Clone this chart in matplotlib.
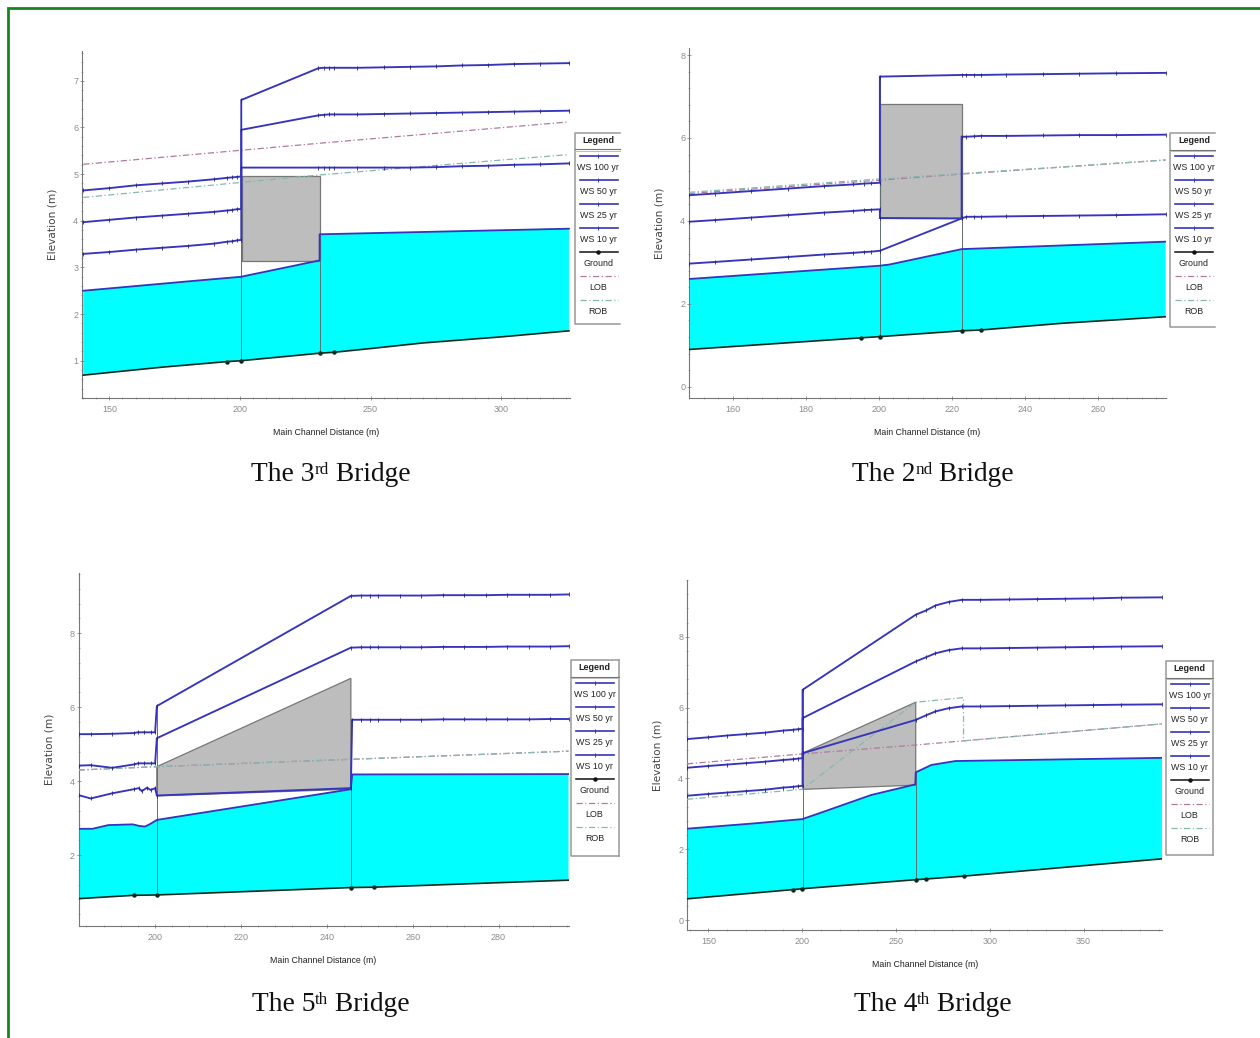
import matplotlib
matplotlib.use("Agg")
import matplotlib.pyplot as plt
from matplotlib.ticker import MultipleLocator
import numpy as np

W, H = 1260, 1038
NARROW = ["Liberation Sans", "DejaVu Sans"]

LEGEND_LABELS = ["WS 100 yr", "WS 50 yr", "WS 25 yr", "WS 10 yr", "Ground", "LOB", "ROB"]

# ---------- 3rd bridge ----------
B3_WS_X = [140,150,160,170,180,190,195,197,199,200.5,200.5,230,232,234,236,245,255,265,275,285,295,305,315,326]
B3_WS100 = [4.65,4.70,4.76,4.80,4.84,4.89,4.92,4.93,4.94,4.95,6.59,7.27,7.28,7.28,7.28,7.28,7.29,7.30,7.31,7.33,7.34,7.36,7.37,7.38]
B3_WS50 = [3.97,4.02,4.07,4.11,4.15,4.19,4.22,4.23,4.25,4.25,5.95,6.26,6.27,6.28,6.28,6.28,6.29,6.30,6.31,6.32,6.33,6.34,6.35,6.36]
B3_WS25 = [3.29,3.33,3.38,3.42,3.46,3.51,3.55,3.56,3.58,3.59,5.14,5.14,5.14,5.14,5.14,5.14,5.14,5.14,5.15,5.17,5.18,5.20,5.21,5.23]
B3_WS10_X = [140,180,200.5,203,230.5,230.5,326]
B3_WS10 = [2.50,2.70,2.80,2.83,3.15,3.71,3.83]
B3_GR_X = [140,170,195,200.5,230.5,236,250,270,300,326]
B3_GR = [0.69,0.86,0.98,1.00,1.16,1.18,1.26,1.38,1.51,1.64]
B3_GR_MARK = [2,3,4,5]
B3_LOB_X = [140,200,230,326]
B3_LOB = [5.21,5.51,5.66,6.12]
B3_ROB_X = [140,200,230,326]
B3_ROB = [4.50,4.82,4.98,5.42]
B3_DECK_X = [200.8,200.8,230.5,230.5]
B3_DECK_Y = [3.14,4.96,4.96,3.14]
B3_SECTION_X = [200.5,230.5]
B3_SECTION_TOP = [6.59,3.71]
B3_SECTION_BOT = [1.00,1.16]

# ---------- 2nd bridge ----------
B2_WS_X = [148,155,165,175,185,193,196,198,200.3,200.3,222.7,224,226,228,235,245,255,265,278.6]
B2_WS100 = [4.62,4.66,4.72,4.78,4.84,4.88,4.90,4.91,4.92,7.48,7.52,7.52,7.52,7.52,7.53,7.54,7.55,7.56,7.57]
B2_WS50_X = [148,155,165,175,185,193,196,198,200.3,200.3,222.7,222.7,224,226,228,235,245,255,265,278.6]
B2_WS50 = [3.98,4.02,4.08,4.14,4.20,4.24,4.26,4.27,4.28,4.07,4.06,6.03,6.03,6.04,6.05,6.05,6.06,6.07,6.07,6.08]
B2_WS25_X = [148,155,165,175,185,193,196,198,200.3,222.7,224,226,228,235,245,255,265,278.6]
B2_WS25 = [2.97,3.01,3.07,3.13,3.19,3.23,3.25,3.26,3.28,4.06,4.10,4.10,4.10,4.11,4.12,4.13,4.14,4.16]
B2_WS10_X = [148,200.3,203,222.7,278.6]
B2_WS10 = [2.60,2.92,2.95,3.32,3.50]
B2_GR_X = [148,195,200.3,222.7,228,250,278.6]
B2_GR = [0.90,1.18,1.21,1.35,1.37,1.53,1.69]
B2_GR_MARK = [1,2,3,4]
B2_LOB_X = [148,200,222.7,278.6]
B2_LOB = [4.66,4.98,5.13,5.47]
B2_ROB_X = [148,200,222.7,278.6]
B2_ROB = [4.69,5.01,5.14,5.47]
B2_DECK_X = [200.3,200.3,222.7,222.7]
B2_DECK_Y = [4.06,6.82,6.82,4.06]
B2_SECTION_X = [200.3,222.7]
B2_SECTION_TOP = [7.48,6.03]
B2_SECTION_BOT = [1.21,1.35]

# ---------- 5th bridge ----------
B5_WS_X = [182.2,185,190,195,196,197.5,199,200.0]
B5_WS100 = [5.27,5.27,5.28,5.30,5.32,5.32,5.32,5.32]
B5_WS100_X2 = [200.4,245.6,248,250,252,257,262,267,272,277,282,287,292,296.3]
B5_WS100_Y2 = [6.03,9.01,9.02,9.02,9.02,9.02,9.02,9.03,9.03,9.03,9.04,9.04,9.04,9.05]
B5_WS50 = [4.42,4.43,4.36,4.45,4.48,4.48,4.48,4.48]
B5_WS50_Y2 = [5.16,7.61,7.62,7.62,7.62,7.62,7.62,7.63,7.63,7.63,7.64,7.64,7.64,7.65]
B5_WS25_X = [182.2,185,190,195,196.2,196.9,198.1,199,200.0,200.4,245.6,245.9,248,250,252,257,262,267,272,277,282,287,292,296.3]
B5_WS25 = [3.62,3.53,3.67,3.78,3.81,3.73,3.82,3.76,3.81,3.61,3.81,5.66,5.66,5.66,5.66,5.66,5.66,5.67,5.67,5.67,5.67,5.67,5.68,5.68]
B5_WS10_X = [182.2,185.4,189.1,194.8,196.2,197.6,198.7,200.4,245.6,245.9,296.3]
B5_WS10 = [2.71,2.71,2.81,2.83,2.79,2.77,2.83,2.95,3.78,4.18,4.19]
B5_GR_X = [182.2,195,200.4,245.6,251,296.3]
B5_GR = [0.82,0.91,0.92,1.12,1.13,1.32]
B5_GR_MARK = [1,2,3,4]
B5_LOB_X = [182.2,200.4,245.6,296.3]
B5_LOB = [4.30,4.39,4.59,4.81]
B5_ROB_X = [182.2,200.4,245.6,296.3]
B5_ROB = [4.30,4.39,4.59,4.81]
B5_DECK_X = [200.4,200.4,245.6,245.6]
B5_DECK_Y = [3.60,4.39,6.78,3.78]
B5_SECTION_X = [200.4,245.6]
B5_SECTION_TOP = [6.03,5.66]
B5_SECTION_BOT = [0.92,1.12]

# ---------- 4th bridge ----------
B4_L_X = [138.6,150,160,170,180,190,195,198,200.2]
B4_R_X = [200.2,260.5,266,271,278,285,295,310,325,340,355,370,392]
B4_WS100_L = [5.11,5.16,5.21,5.25,5.29,5.35,5.37,5.39,5.40]
B4_WS100_R = [6.50,8.62,8.74,8.88,8.98,9.04,9.04,9.05,9.06,9.07,9.08,9.10,9.11]
B4_WS50_L = [4.30,4.35,4.39,4.43,4.47,4.52,4.54,4.56,4.57]
B4_WS50_R = [5.70,7.30,7.42,7.53,7.62,7.67,7.67,7.68,7.69,7.70,7.71,7.72,7.73]
B4_WS25_L = [3.51,3.56,3.60,3.64,3.68,3.74,3.76,3.78,3.79]
B4_WS25_R = [4.71,5.65,5.78,5.89,5.98,6.03,6.03,6.04,6.05,6.06,6.07,6.08,6.09]
B4_WS10_X = [138.6,174.5,200,208.8,236.7,260.3,260.5,268.9,281.7,392]
B4_WS10 = [2.58,2.73,2.85,3.01,3.53,3.83,4.17,4.38,4.49,4.58]
B4_GR_X = [138.6,195,200,260.5,266,286,392]
B4_GR = [0.60,0.86,0.885,1.14,1.16,1.24,1.73]
B4_GR_MARK = [1,2,3,4,5]
B4_LOB_X = [138.6,200,260,286,392]
B4_LOB = [4.41,4.69,4.94,5.06,5.54]
B4_ROB_X = [138.6,200,260.5,286,286,392]
B4_ROB = [3.41,3.69,6.15,6.28,5.06,5.54]
B4_DECK_X = [200.2,200.2,260.5,260.5]
B4_DECK_Y = [3.69,4.71,6.15,3.81]
B4_SECTION_X = [200.2,260.5]
B4_SECTION_TOP = [6.50,4.17]
B4_SECTION_BOT = [0.885,1.14]

BLUE = "#3634bb"
CYAN = "#00ffff"
DECK = "#bdbdbd"
LOBC = "#b07a9f"
ROBC = "#86b8b0"
GROUNDC = "#0d2a1f"
TICKC = "#8c8c8c"
GREEN = "#17851f"

fig = plt.figure(figsize=(W / 100, H / 100), dpi=100, facecolor="white")


def make_axes(l, r, t, b, xlim, ylim, xmaj, xmin, ymaj, ymin):
    ax = fig.add_axes([l / W, 1 - b / H, (r - l) / W, (b - t) / H])
    ax.set_xlim(*xlim)
    ax.set_ylim(*ylim)
    for s in ("top", "right"):
        ax.spines[s].set_visible(False)
    for s in ("left", "bottom"):
        ax.spines[s].set_color("#777777")
        ax.spines[s].set_linewidth(0.8)
    ax.xaxis.set_major_locator(MultipleLocator(xmaj))
    ax.xaxis.set_minor_locator(MultipleLocator(xmin))
    ax.yaxis.set_major_locator(MultipleLocator(ymaj))
    ax.yaxis.set_minor_locator(MultipleLocator(ymin))
    ax.tick_params(which="major", length=3.5, width=0.6, color="#888888", direction="inout",
                   labelsize=6.5, labelcolor=TICKC)
    ax.tick_params(which="minor", length=2, width=0.5, color="#999999", direction="inout")
    ax.tick_params(axis="x", which="major", pad=3.5)
    ax.tick_params(axis="y", which="major", pad=1)
    for lab in ax.get_xticklabels() + ax.get_yticklabels():
        lab.set_fontfamily(NARROW)
    ax.set_xlabel("Main Channel Distance (m)", fontsize=6.3, family=NARROW, color="#222222", labelpad=10)
    ax.set_ylabel("Elevation (m)", fontsize=7.6, color="#444444", labelpad=11)
    return ax


def draw_ws(ax, x, y):
    ax.plot(x, y, color=BLUE, lw=1.35, marker="|", ms=3, mew=0.6, mec="#25257f", zorder=6, solid_joinstyle="miter")


def draw_common(ax, ws10x, ws10, grx, gr, grmark, lobx, lob, robx, rob, dx, dy, secx, sect, secb):
    ax.fill(np.r_[ws10x, grx[::-1]], np.r_[ws10, gr[::-1]], color=CYAN, lw=0, zorder=1)
    ax.fill(dx, dy, facecolor=DECK, edgecolor="#777777", lw=0.9, zorder=3)
    for xx, t, b in zip(secx, sect, secb):
        ax.plot([xx, xx], [b, t], color="#5f6f6f", lw=0.7, zorder=4)
    ax.plot(lobx, lob, color=LOBC, lw=0.9, ls=(0, (5, 2, 1, 2)), zorder=5)
    ax.plot(robx, rob, color=ROBC, lw=0.9, ls=(0, (5, 2, 1, 2)), zorder=5)
    ax.plot(ws10x, ws10, color=BLUE, lw=1.3, zorder=6)
    ax.plot(grx, gr, color=GROUNDC, lw=1.2, marker="o", ms=2.2, markevery=grmark, zorder=6)


# 3rd bridge
a3 = make_axes(82, 570, 51, 398, (139.5, 326.4), (0.2, 7.64), 50, 5, 1, 0.2)
draw_common(a3, B3_WS10_X, B3_WS10, B3_GR_X, B3_GR, B3_GR_MARK, B3_LOB_X, B3_LOB, B3_ROB_X, B3_ROB,
            B3_DECK_X, B3_DECK_Y, B3_SECTION_X, B3_SECTION_TOP, B3_SECTION_BOT)
for ys in (B3_WS100, B3_WS50, B3_WS25):
    draw_ws(a3, B3_WS_X, ys)

# 2nd bridge
a2 = make_axes(689, 1165.6, 48, 398, (148, 278.6), (-0.27, 8.17), 20, 4, 2, 0.4)
draw_common(a2, B2_WS10_X, B2_WS10, B2_GR_X, B2_GR, B2_GR_MARK, B2_LOB_X, B2_LOB, B2_ROB_X, B2_ROB,
            B2_DECK_X, B2_DECK_Y, B2_SECTION_X, B2_SECTION_TOP, B2_SECTION_BOT)
draw_ws(a2, B2_WS_X, B2_WS100)
draw_ws(a2, B2_WS50_X, B2_WS50)
draw_ws(a2, B2_WS25_X, B2_WS25)

# 5th bridge
a5 = make_axes(78.7, 568.5, 573, 926, (182.2, 296.3), (0.08, 9.63), 20, 4, 2, 0.4)
draw_common(a5, B5_WS10_X, B5_WS10, B5_GR_X, B5_GR, B5_GR_MARK, B5_LOB_X, B5_LOB, B5_ROB_X, B5_ROB,
            B5_DECK_X, B5_DECK_Y, B5_SECTION_X, B5_SECTION_TOP, B5_SECTION_BOT)
draw_ws(a5, B5_WS_X + B5_WS100_X2, B5_WS100 + B5_WS100_Y2)
draw_ws(a5, B5_WS_X + B5_WS100_X2, B5_WS50 + B5_WS50_Y2)
draw_ws(a5, B5_WS25_X, B5_WS25)

# 4th bridge
a4 = make_axes(687, 1162.4, 580, 930, (138.6, 392), (-0.28, 9.6), 50, 10, 2, 0.4)
draw_common(a4, B4_WS10_X, B4_WS10, B4_GR_X, B4_GR, B4_GR_MARK, B4_LOB_X, B4_LOB, B4_ROB_X, B4_ROB,
            B4_DECK_X, B4_DECK_Y, B4_SECTION_X, B4_SECTION_TOP, B4_SECTION_BOT)
draw_ws(a4, B4_L_X + B4_R_X, B4_WS100_L + B4_WS100_R)
draw_ws(a4, B4_L_X + B4_R_X, B4_WS50_L + B4_WS50_R)
draw_ws(a4, B4_L_X + B4_R_X, B4_WS25_L + B4_WS25_R)

# Overlay in pixel coordinates
ov = fig.add_axes([0, 0, 1, 1], facecolor="none")
ov.set_xlim(0, W)
ov.set_ylim(H, 0)
ov.axis("off")
ov.set_zorder(10)

# page border
ov.plot([8, 8, W], [H, 8, 8], color=GREEN, lw=2, solid_joinstyle="miter", clip_on=False)


def legend(x0, x1, top, bottom, closed):
    edge = "#999999"
    ov.plot([x1, x0, x0, x1], [top, top, bottom, bottom], color=edge, lw=1.1)
    if closed:
        ov.plot([x1, x1], [top, bottom], color=edge, lw=1.1)
    ov.plot([x0, x1], [top + 16.5, top + 16.5], color="#777777", lw=0.8)
    ov.plot([x0, x1], [top + 18, top + 18], color="#bbbbbb", lw=0.7)
    cx = x0 + 23.5
    ov.text(cx, top + 7.8, "Legend", ha="center", va="center", fontsize=6.4, fontweight="bold",
            family=NARROW, color="#222222")
    for i, lab in enumerate(LEGEND_LABELS):
        ly = top + 23.3 + 24 * i
        lx = [x0 + 5, x0 + 43]
        if i < 4:
            ov.plot(lx, [ly, ly], color=BLUE, lw=1.2)
            ov.plot(cx, ly, marker="|", ms=3, mew=0.7, color=BLUE)
        elif i == 4:
            ov.plot(lx, [ly, ly], color="#111111", lw=1.1)
            ov.plot(cx, ly, marker="o", ms=2.2, color="#111111")
        elif i == 5:
            ov.plot(lx, [ly, ly], color=LOBC, lw=0.9, ls=(0, (5, 2, 1, 2)))
        else:
            ov.plot(lx, [ly, ly], color=ROBC, lw=0.9, ls=(0, (5, 2, 1, 2)))
        ov.text(cx, ly + 11.5, lab, ha="center", va="center", fontsize=6.4, family=NARROW, color="#222222")


legend(574.5, 620, 132.7, 324, False)
legend(1170.4, 1214.6, 133, 327, False)
legend(571, 619, 660, 855.7, True)
legend(1166, 1212.6, 661, 855, True)


def caption(cx, y, num, sup):
    fs = 19.8
    fam = "Liberation Serif"
    r = fig.canvas.get_renderer()
    parts = [("The " + num, fs, 0), (sup, fs * 0.62, -7), (" Bridge", fs, 0)]
    widths = []
    for s, size, _ in parts:
        t = ov.text(0, 0, s.replace(" ", "\u00a0"), fontsize=size, family=fam)
        widths.append(t.get_window_extent(r).width)
        t.remove()
    x = cx - sum(widths) / 2
    for (s, size, dy), w in zip(parts, widths):
        ov.text(x, y + dy, s.replace(" ", "\u00a0"), fontsize=size, family=fam, color="#111111",
                ha="left", va="baseline")
        x += w


caption(331, 481, "3", "rd")
caption(933, 481, "2", "nd")
caption(331, 1011, "5", "th")
caption(933, 1011, "4", "th")

fig.savefig("out.png", dpi=100)
